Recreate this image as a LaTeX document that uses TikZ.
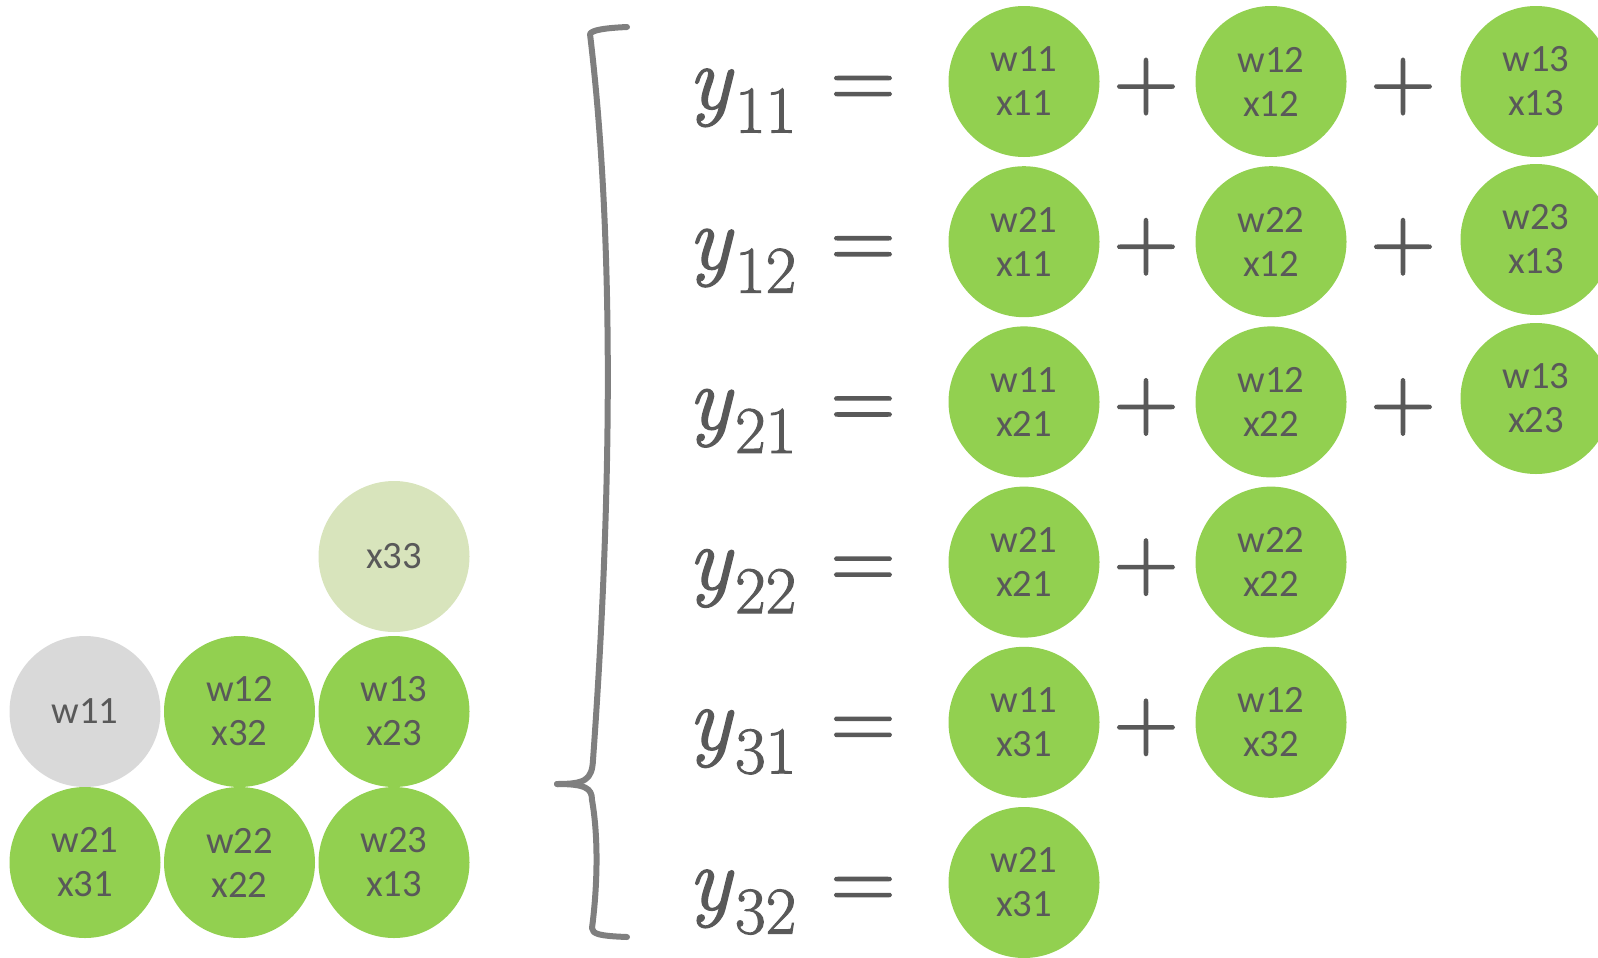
\documentclass[tikz,border=0pt]{standalone}
\usepackage{fontspec}
\newfontfamily\circfont{Carlito}
\newfontfamily\eqfont{Latin Modern Roman}[FakeBold=1.6]
\definecolor{txt}{HTML}{595959}
\definecolor{gfill}{HTML}{92D050}
\definecolor{lgfill}{HTML}{D8E4BC}
\definecolor{greyfill}{HTML}{D9D9D9}
\definecolor{bracecol}{HTML}{7F7F7F}
\newcommand{\ysub}[1]{{\itshape y}\/\kern1pt\raisebox{-18pt}{\fontsize{50pt}{52pt}\selectfont #1}}
\begin{document}
\begin{tikzpicture}[x=0.75pt,y=-0.75pt,
  dot/.style={circle,inner sep=0pt,minimum size=113.25pt,text=txt,align=center,
    font=\circfont\fontsize{29pt}{33pt}\selectfont},
  gdot/.style={dot,fill=gfill},
  lgdot/.style={dot,fill=lgfill},
  greydot/.style={dot,fill=greyfill},
  eq/.style={text=txt,inner sep=0pt,font=\eqfont\fontsize{67.5pt}{70pt}\selectfont},
  bracestyle/.style={draw=bracecol,line width=4.5pt,line cap=round,line join=round}]
\clip (0,0) rectangle (1598,957);
% left matrix
\node[lgdot] (x33) at (394,556.5) {x33};
\node[greydot] (m11) at (85,711.5) {w11};
\node[gdot] (m12) at (239.5,711.5) {w12\\x32};
\node[gdot] (m13) at (394,711.5) {w13\\x23};
\node[gdot] (m21) at (85,862.5) {w21\\x31};
\node[gdot] (m22) at (239.5,862.5) {w22\\x22};
\node[gdot] (m23) at (394,862.5) {w23\\x13};
% brace
\draw[bracestyle] (627,27) .. controls (605,28) and (592,30) .. (590,34)
  .. controls (610,200) and (616,440) .. (593,760)
  .. controls (592,780) and (585,784) .. (557,784);
\draw[bracestyle] (557,784) .. controls (585,784) and (592,788) .. (592,800)
  .. controls (599,840) and (597,890) .. (592,928)
  .. controls (592,934) and (600,936) .. (627,937);
% equations
\foreach \r/\lab/\Y in {1/11/81.5,2/12/241.7,3/21/401.9,4/22/562.1,5/31/722.3,6/32/882.5}{
  \node[eq,anchor=base west] (y\r) at (688,\Y+27) {\ysub{\lab}};
  \node[eq,anchor=base] (e\r) at (863,\Y+27) {=};
}
% row 1
\node[gdot] (a11) at (1024,81.5) {w11\\x11};
\node[eq,anchor=base] (p11) at (1146,109) {+};
\node[gdot] (a12) at (1271,81.5) {w12\\x12};
\node[eq,anchor=base] (p12) at (1403,109) {+};
\node[gdot] (a13) at (1536,81.5) {w13\\x13};
% row 2
\node[gdot] (a21) at (1024,241.7) {w21\\x11};
\node[eq,anchor=base] (p21) at (1146,269.2) {+};
\node[gdot] (a22) at (1271,241.7) {w22\\x12};
\node[eq,anchor=base] (p22) at (1403,269.2) {+};
\node[gdot] (a23) at (1536,239.5) {w23\\x13};
% row 3
\node[gdot] (a31) at (1024,401.9) {w11\\x21};
\node[eq,anchor=base] (p31) at (1146,429.4) {+};
\node[gdot] (a32) at (1271,401.9) {w12\\x22};
\node[eq,anchor=base] (p32) at (1403,429.4) {+};
\node[gdot] (a33) at (1536,398.5) {w13\\x23};
% row 4
\node[gdot] (a41) at (1024,562.1) {w21\\x21};
\node[eq,anchor=base] (p41) at (1146,589.6) {+};
\node[gdot] (a42) at (1271,562.1) {w22\\x22};
% row 5
\node[gdot] (a51) at (1024,722.3) {w11\\x31};
\node[eq,anchor=base] (p51) at (1146,749.8) {+};
\node[gdot] (a52) at (1271,722.3) {w12\\x32};
% row 6
\node[gdot] (a61) at (1024,882.5) {w21\\x31};
\end{tikzpicture}
\end{document}
